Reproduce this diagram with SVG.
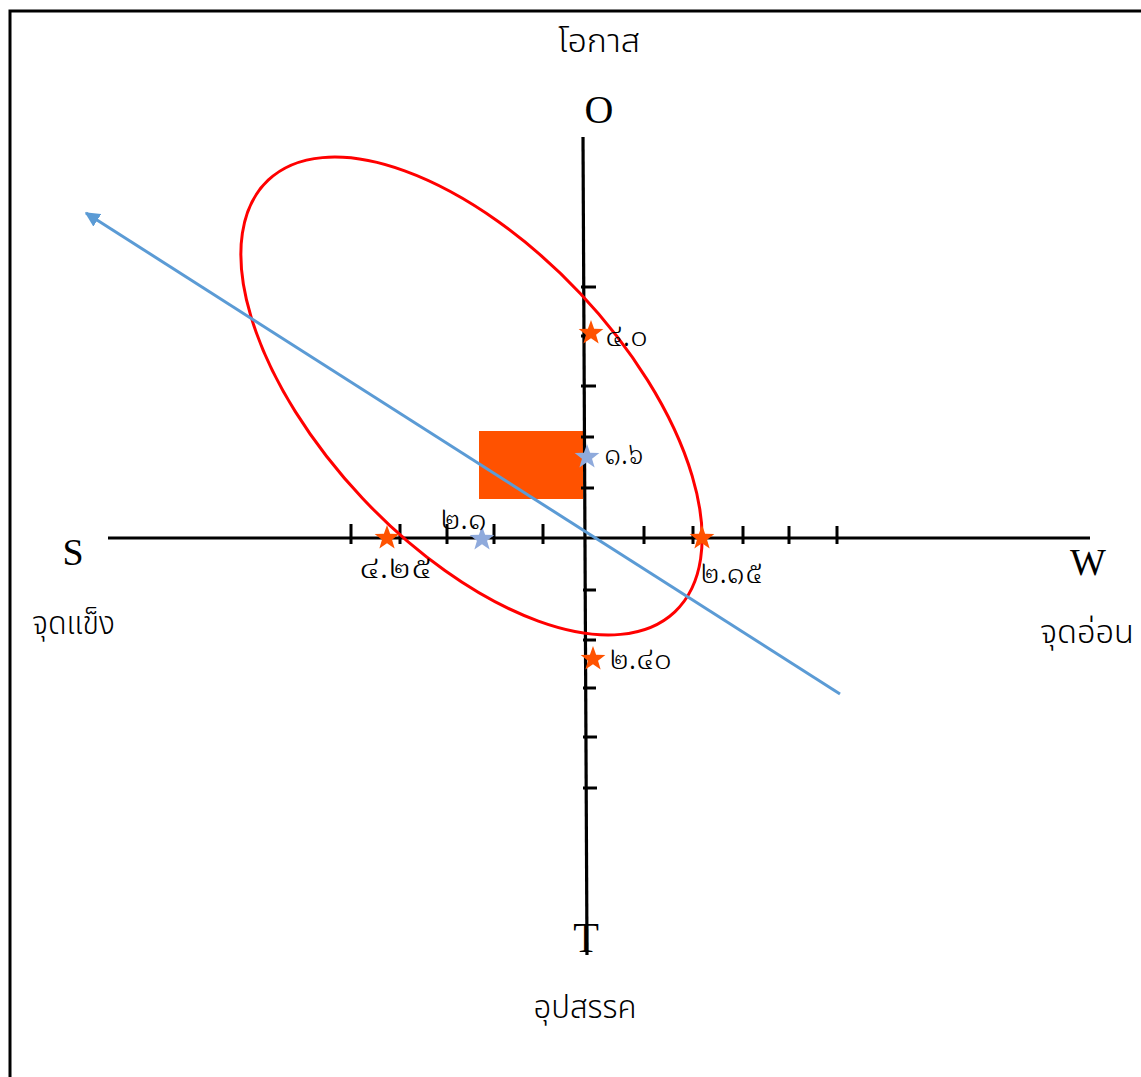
<svg xmlns="http://www.w3.org/2000/svg" width="1141" height="1077" viewBox="0 0 1141 1077">
<style>
.axis{stroke:#000;stroke-width:3.2;fill:none}
.tick{stroke:#000;stroke-width:3}
.lat{font-family:"Liberation Serif","Times New Roman",serif;fill:#000;text-anchor:middle}
.thai{font-family:"Noto Sans Thai","Noto Sans Thai UI","Noto Sans","DejaVu Sans",sans-serif;fill:#000;font-size:32px;font-weight:300}
.num{font-family:"Noto Serif Thai","Noto Sans Thai","Noto Sans","DejaVu Sans",serif;fill:#000;font-size:31px;font-weight:300}
.so{fill:#FF5200}
.sb{fill:#8FAADC}
</style>
<defs>
<path id="star" d="M0,-13 L3.12,-4.29 L12.36,-4.02 L5.04,1.64 L7.64,10.52 L0,5.3 L-7.64,10.52 L-5.04,1.64 L-12.36,-4.02 L-3.12,-4.29 Z"/>
<marker id="arr" viewBox="0 0 10 10" refX="9" refY="5" markerWidth="5" markerHeight="5" orient="auto" markerUnits="strokeWidth">
<path d="M0,0 L10,5 L0,10 Z" fill="#5B9BD5"/>
</marker>
</defs>
<rect x="10" y="11" width="1300" height="1300" fill="none" stroke="#000" stroke-width="3"/>
<g id="quadrant-box">
<rect x="479" y="431" width="104" height="68" fill="#FF5200"/>
</g>
<g id="connectors">
<line class="axis" x1="583" y1="137" x2="587" y2="955"/>
<line class="axis" x1="108" y1="538" x2="1090" y2="538"/>
<g class="tick">
<line x1="581" y1="287" x2="596" y2="287"/>
<line x1="581" y1="336" x2="596" y2="336"/>
<line x1="581" y1="386" x2="596" y2="386"/>
<line x1="581" y1="437" x2="594" y2="437"/>
<line x1="581" y1="488" x2="594" y2="488"/>
<line x1="583" y1="590" x2="596" y2="590"/>
<line x1="583" y1="640" x2="596" y2="640"/>
<line x1="583" y1="688" x2="596" y2="688"/>
<line x1="583" y1="737" x2="597" y2="737"/>
<line x1="583" y1="788" x2="597" y2="788"/>
<line x1="351" y1="524" x2="351" y2="544"/>
<line x1="400" y1="524" x2="400" y2="544"/>
<line x1="447" y1="524" x2="447" y2="544"/>
<line x1="494" y1="524" x2="494" y2="544"/>
<line x1="543" y1="524" x2="543" y2="544"/>
<line x1="644" y1="526" x2="644" y2="544"/>
<line x1="693" y1="526" x2="693" y2="544"/>
<line x1="743" y1="526" x2="743" y2="544"/>
<line x1="789" y1="526" x2="789" y2="544"/>
<line x1="837" y1="526" x2="837" y2="544"/>
</g>
<ellipse cx="471.5" cy="396" rx="296.5" ry="149.5" transform="rotate(46.7 471.5 396)" fill="none" stroke="#FF0000" stroke-width="3"/>
<line x1="840" y1="694" x2="86" y2="213" stroke="#5B9BD5" stroke-width="3" marker-end="url(#arr)"/>
</g>
<g id="points">
<use href="#star" x="591" y="333" class="so"/>
<use href="#star" x="387" y="538" class="so"/>
<use href="#star" x="702" y="538" class="so"/>
<use href="#star" x="593" y="659" class="so"/>
<use href="#star" x="587" y="457" class="sb"/>
<use href="#star" x="482" y="539" class="sb"/>
</g>
<g id="labels">
<text class="num" x="605" y="346" textLength="43" lengthAdjust="spacingAndGlyphs">๔.๐</text>
<text class="num" x="604" y="464" textLength="40" lengthAdjust="spacingAndGlyphs">๑.๖</text>
<text class="num" x="440" y="529" textLength="47" lengthAdjust="spacingAndGlyphs">๒.๑</text>
<text class="num" x="359" y="578" textLength="73" lengthAdjust="spacingAndGlyphs">๔.๒๕</text>
<text class="num" x="700" y="583" textLength="63" lengthAdjust="spacingAndGlyphs">๒.๑๕</text>
<text class="num" x="609" y="669" textLength="63" lengthAdjust="spacingAndGlyphs">๒.๔๐</text>
</g>
<g id="node-O"><text class="lat" x="599" y="123" font-size="40">O</text><text class="thai" x="599" y="52" text-anchor="middle" textLength="82" lengthAdjust="spacingAndGlyphs">โอกาส</text></g>
<g id="node-S"><text class="lat" x="73" y="565" font-size="38">S</text><text class="thai" x="32" y="634" textLength="83" lengthAdjust="spacingAndGlyphs">จุดแข็ง</text></g>
<g id="node-W"><text class="lat" x="1088" y="575" font-size="38">W</text><text class="thai" x="1040" y="643" textLength="94" lengthAdjust="spacingAndGlyphs">จุดอ่อน</text></g>
<g id="node-T"><text class="lat" x="586" y="952" font-size="42">T</text><text class="thai" x="585" y="1018" text-anchor="middle" textLength="103" lengthAdjust="spacingAndGlyphs">อุปสรรค</text></g>
</svg>
